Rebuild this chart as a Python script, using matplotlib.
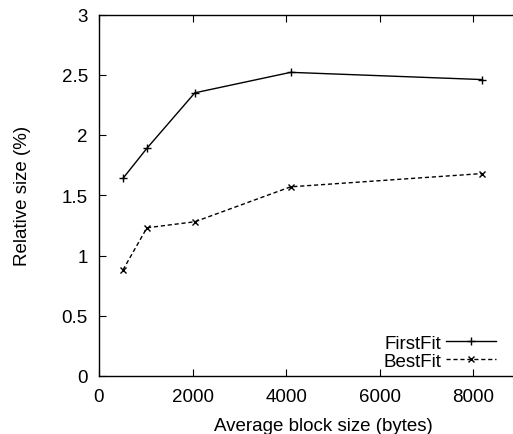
import matplotlib
matplotlib.use("Agg")
import matplotlib.pyplot as plt

plt.rcParams['font.family'] = ['Liberation Sans', 'DejaVu Sans']

block_sizes = [512, 1024, 2048, 4096, 8192]
first_fit = [1.64, 1.89, 2.35, 2.52, 2.46]
best_fit = [0.88, 1.23, 1.28, 1.57, 1.68]
x_ticks = [0, 2000, 4000, 6000, 8000]
y_ticks = [0, 0.5, 1, 1.5, 2, 2.5, 3]
y_tick_labels = ['0', '0.5', '1', '1.5', '2', '2.5', '3']

W, H = 513, 435
fig = plt.figure(figsize=(W / 100, H / 100), dpi=100)
left, top, bottom = 99, 15.5, 377
xmax = 9600
px_per_unit = 93.6 / 2000
right = left + xmax * px_per_unit
ax = fig.add_axes([left / W, (H - bottom) / H, (right - left) / W, (bottom - top) / H])

fs = 13.5
ax.plot(block_sizes, first_fit, color='black', lw=1.0, marker='+', ms=6, mew=1.0, label='FirstFit')
ax.plot(block_sizes, best_fit, color='black', lw=1.0, ls=(0, (3, 2)), marker='x', ms=4.5, mew=1.0, label='BestFit')

ax.set_xlim(0, xmax)
ax.set_ylim(0, 3)
ax.set_xticks(x_ticks)
ax.set_xticklabels([str(t) for t in x_ticks])
ax.set_yticks(y_ticks)
ax.set_yticklabels(y_tick_labels)
ax.tick_params(direction='in', top=True, right=False, length=5, labelsize=fs)
ax.tick_params(axis='x', pad=9)
ax.tick_params(axis='y', pad=8)
ax.set_xlabel('Average block size (bytes)', fontsize=fs, labelpad=8)
ax.set_ylabel('Relative size (%)', fontsize=fs, labelpad=22)
for s in ax.spines.values():
    s.set_linewidth(1.0)
ax.spines['right'].set_visible(False)

leg = fig.legend(loc='lower right', bbox_to_anchor=(0.986, 0.126), bbox_transform=fig.transFigure,
                 frameon=False, markerfirst=False, fontsize=fs, handlelength=2.7,
                 handletextpad=0.25, labelspacing=0.05, borderpad=0)

fig.savefig('out.png', dpi=100)
